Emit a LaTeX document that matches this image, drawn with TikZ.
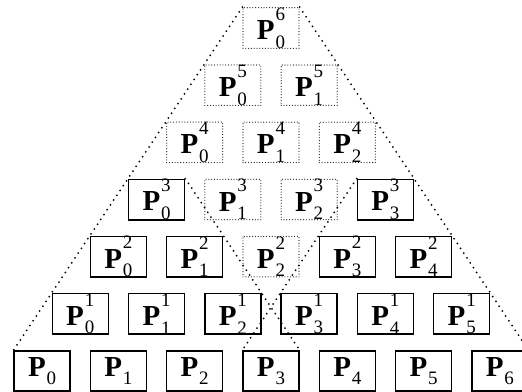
\documentclass[tikz,border=0pt]{standalone}
\usepackage{fontspec}
\setmainfont{Liberation Serif}

% bold P with a stacked subscript / superscript pair
\newcommand{\scrfont}{\fontsize{19}{19}\selectfont}
\newcommand{\Pss}[2]{\textbf{P}\kern0.8pt\rlap{\raisebox{0.66em}{\scrfont #2}}\raisebox{-0.3em}{\scrfont #1}}
\newcommand{\Ps}[1]{\textbf{P}\kern0.8pt\raisebox{-0.3em}{\scrfont #1}}

\begin{document}
\begin{tikzpicture}[x=1pt,y=-1pt,
  boxbase/.style={minimum width=56pt,minimum height=40pt,inner sep=0pt,
    font=\fontsize{29}{29}\selectfont},
  solidbox/.style={boxbase,draw,line width=1.4pt},
  dotbox/.style={boxbase,draw=black!90,line width=1.2pt,line cap=round,
    dash pattern=on 0pt off 2.8pt},
  triline/.style={line width=2pt,line cap=round,dash pattern=on 0pt off 5.8pt}]
\useasboundingbox (0,0) rectangle (522,391);

\foreach \r in {0,...,6}{
  \pgfmathtruncatemacro\n{6-\r}
  \foreach \i in {0,...,\n}{
    \pgfmathsetmacro\cx{271+(\i-\n/2)*76.3}
    \pgfmathsetmacro\cy{28+\n*57.17}
    \pgfmathtruncatemacro\solid{(\r<2) || (\r==2 && \i!=2) || (\r==3 && (\i==0 || \i==3))}
    \ifnum\solid=1 \def\st{solidbox}\else\def\st{dotbox}\fi
    \ifnum\r=0
      \node[\st] (p\r\i) at (\cx,\cy) {\Ps{\i}};
    \else
      \node[\st] (p\r\i) at (\cx,\cy) {\Pss{\i}{\r}};
    \fi
  }
}

% outer triangle and the two inner triangles
\draw[triline] (p60.north west) -- (p00.north west);
\draw[triline] (p60.north east) -- (p06.north east);
\draw[triline] (p30.north east) -- (p03.north east);
\draw[triline] (p33.north west) -- (p03.north west);
\end{tikzpicture}
\end{document}
